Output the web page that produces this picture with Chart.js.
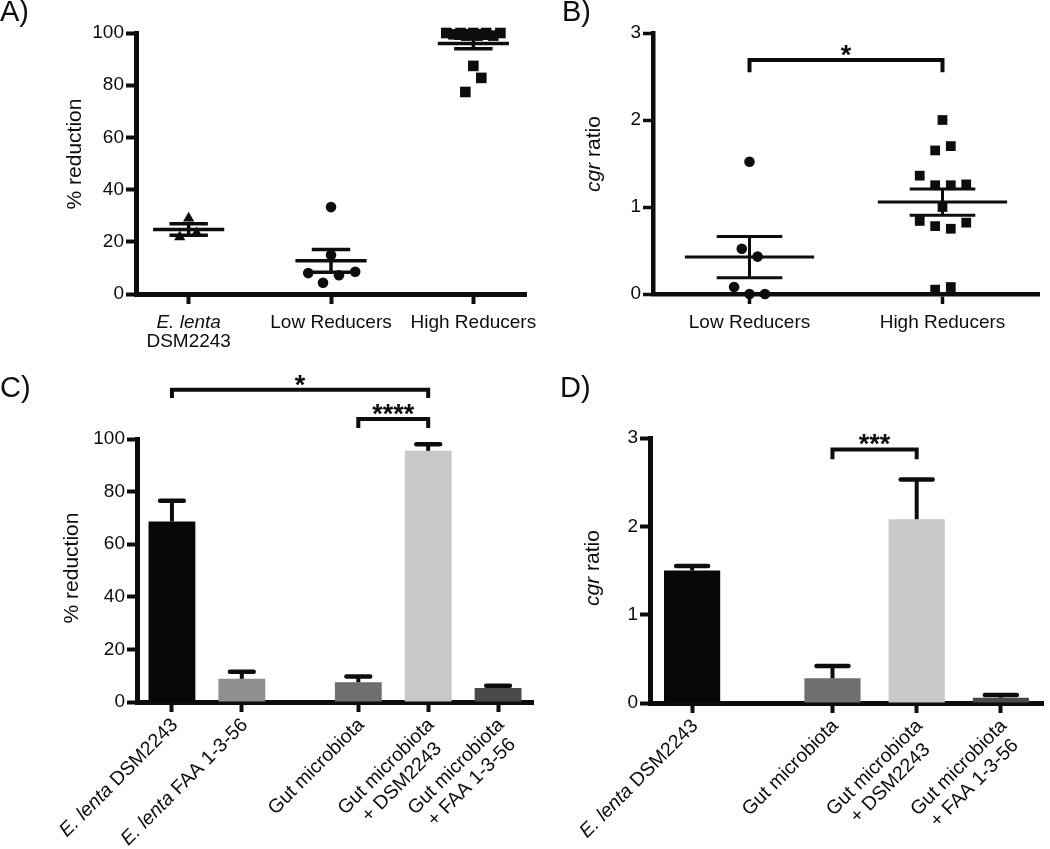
<!DOCTYPE html>
<html>
<head>
<meta charset="utf-8">
<title>cgr reduction figure</title>
<script src="https://cdn.jsdelivr.net/npm/chart.js@4.4.1/dist/chart.umd.min.js"></script>
<style>
  html, body { margin: 0; padding: 0; background: #fff; }
  #fig { position: relative; width: 1050px; height: 849px; overflow: hidden; }
  #fig canvas { position: absolute; }
</style>
</head>
<body>
<div id="fig">
  <canvas id="panelA" width="540" height="380" style="left:0;top:0"></canvas>
  <canvas id="panelB" width="530" height="380" style="left:520px;top:0"></canvas>
  <canvas id="panelC" width="540" height="489" style="left:0;top:360px"></canvas>
  <canvas id="panelD" width="530" height="489" style="left:520px;top:360px"></canvas>
</div>
<script>
const FONT = '"Liberation Sans", Arial, Helvetica, sans-serif';
const INK = '#0d0d0d';
Chart.defaults.font.family = FONT;
Chart.defaults.color = INK;

// A) % reduction per strain / donor group  ('_' marks italic, '|' a line break)
const catsA = ['_E. lenta_|DSM2243', 'Low Reducers', 'High Reducers'];
const elentaA = [29.0, 21.8, 23.4];
const elentaOffA = [0, -0.063, 0.056];
const lowA = [33.3, 14.9, 8.0, 7.2, 8.5, 4.3];
const lowOffA = [0, 0, -0.16, 0.056, 0.17, -0.056];
const highA = [100, 99.5, 100, 99, 100, 99.5, 100, 99, 100, 99.5, 99, 87.4, 82.8, 77.4];
const highOffA = [-0.19, -0.14, -0.09, -0.05, 0, 0.05, 0.09, 0.14, 0.19, -0.03, 0.03, 0, 0.056, -0.056];

// B) cgr ratio per donor group
const catsB = ['Low Reducers', 'High Reducers'];
const lowB = [1.52, 0.52, 0.43, 0.08, 0.0, 0.0];
const lowOffB = [0, -0.04, 0.042, -0.08, 0, 0.08];
const highB = [2.0, 1.65, 1.70, 1.36, 1.25, 1.25, 1.26, 1.0, 0.84, 0.78, 0.75, 0.82, 0.05, 0.08];
const highOffB = [0, -0.038, 0.043, -0.118, -0.038, 0.043, 0.123, 0, -0.118, -0.038, 0.043, 0.123, -0.038, 0.043];
const sigB = [{ from: 0, to: 1, y: 2.69, foot: 2.55, text: '*' }];

// C) % reduction, mean + SEM
const catsC = ['_E. lenta_ DSM2243', '_E. lenta_ FAA 1-3-56', 'Gut microbiota',
               'Gut microbiota|+ DSM2243', 'Gut microbiota|+ FAA 1-3-56'];
const meanC = [68.6, 8.8, 7.5, 95.5, 5.3];
const semC = [7.9, 2.7, 2.2, 2.5, 0.9];
const colorsC = ['#080808', '#8f8f8f', '#6f6f6f', '#c8c8c8', '#4a4a4a'];
const sigC = [
  { from: 0, to: 3, y: 118.7, foot: 115.6, text: '*' },
  { from: 2, to: 3, y: 107.6, foot: 104.2, text: '****' }
];

// D) cgr ratio, mean + SEM
const catsD = ['_E. lenta_ DSM2243', 'Gut microbiota', 'Gut microbiota|+ DSM2243', 'Gut microbiota|+ FAA 1-3-56'];
const meanD = [1.50, 0.28, 2.08, 0.06];
const semD = [0.05, 0.14, 0.45, 0.03];
const colorsD = ['#080808', '#6f6f6f', '#c8c8c8', '#4a4a4a'];
const sigD = [{ from: 1, to: 2, y: 2.87, foot: 2.76, text: '***' }];

// bar slots: a wider gap separates the pure cultures from the gut samples
const posC = catsC.map((c, i) => i + (i > 1 ? 0.667 : 0));
const posD = catsD.map((c, i) => i + (i > 0 ? 0.667 : 0));

function mean(a) { return a.reduce((s, v) => s + v, 0) / a.length; }
function sem(a) {
  const m = mean(a);
  return Math.sqrt(a.reduce((s, v) => s + (v - m) * (v - m), 0) / (a.length - 1) / a.length);
}
function dots(values, offs, group) { return values.map((v, i) => ({ x: group + offs[i], y: v })); }
function bars(values, pos) { return values.map((v, i) => ({ x: pos[i], y: v })); }

function segs(str) {
  return str.split('_').map((t, i) => ({ t: t, it: i % 2 === 1 })).filter(s => s.t.length);
}
function fontOf(size, it) { return (it ? 'italic ' : '') + size + 'px ' + FONT; }
function partsWidth(ctx, parts, size) {
  let w = 0;
  parts.forEach(p => { ctx.font = fontOf(size, p.it); w += ctx.measureText(p.t).width; });
  return w;
}
function drawParts(ctx, parts, size, x, y) {
  ctx.textAlign = 'left';
  parts.forEach(p => {
    ctx.font = fontOf(size, p.it);
    ctx.fillText(p.t, x, y);
    x += ctx.measureText(p.t).width;
  });
}

const decor = {
  id: 'decor',
  afterDraw(chart, args, o) {
    const ctx = chart.ctx, xs = chart.scales.x, ys = chart.scales.y;
    const px = v => xs.getPixelForValue(v), py = v => ys.getPixelForValue(v);
    ctx.save();
    ctx.strokeStyle = INK;
    ctx.fillStyle = INK;

    // scatter groups: mean line with SEM whiskers
    (o.groups || []).forEach(g => {
      const m = mean(g.values), s = sem(g.values);
      ctx.lineWidth = o.lineWidth;
      ctx.lineCap = 'butt';
      ctx.beginPath();
      ctx.moveTo(px(g.x - o.meanHalf), py(m));
      ctx.lineTo(px(g.x + o.meanHalf), py(m));
      [m - s, m + s].forEach(v => {
        ctx.moveTo(px(g.x - o.semHalf), py(v));
        ctx.lineTo(px(g.x + o.semHalf), py(v));
      });
      ctx.moveTo(px(g.x), py(m - s));
      ctx.lineTo(px(g.x), py(m + s));
      ctx.stroke();
    });

    // bar error bars, upper half only
    (o.errors || []).forEach(e => {
      const top = py(e.y + e.err);
      ctx.lineWidth = 4;
      ctx.lineCap = 'butt';
      ctx.beginPath();
      ctx.moveTo(px(e.x), py(e.y));
      ctx.lineTo(px(e.x), top);
      ctx.stroke();
      ctx.lineWidth = 4.5;
      ctx.lineCap = 'round';
      ctx.beginPath();
      ctx.moveTo(px(e.x - o.capHalf), top);
      ctx.lineTo(px(e.x + o.capHalf), top);
      ctx.stroke();
    });

    // significance brackets
    (o.brackets || []).forEach(b => {
      const x1 = px(o.xAt[b.from]), x2 = px(o.xAt[b.to]), y = py(b.y), yf = py(b.foot);
      ctx.lineWidth = 4;
      ctx.lineCap = 'butt';
      ctx.lineJoin = 'miter';
      ctx.beginPath();
      ctx.moveTo(x1, yf); ctx.lineTo(x1, y); ctx.lineTo(x2, y); ctx.lineTo(x2, yf);
      ctx.stroke();
      ctx.font = 'bold 27px ' + FONT;
      ctx.textAlign = 'center';
      ctx.textBaseline = 'alphabetic';
      ctx.fillText(b.text, (x1 + x2) / 2, y + 4);
    });

    // category labels
    const base = py(0);
    o.labels.forEach((lab, i) => {
      const lines = lab.split('|').map(segs);
      const x = px(o.xAt[i]);
      if (o.rotate) {
        ctx.save();
        ctx.translate(x + 3, base + 20);
        ctx.rotate(-Math.PI / 4);
        ctx.textBaseline = 'middle';
        const w0 = partsWidth(ctx, lines[0], 19.5);
        lines.forEach((ln, k) => {
          const w = partsWidth(ctx, ln, 19.5);
          drawParts(ctx, ln, 19.5, -w0 / 2 - w / 2, k * 22);
        });
        ctx.restore();
      } else {
        ctx.textBaseline = 'alphabetic';
        lines.forEach((ln, k) => {
          const w = partsWidth(ctx, ln, 19);
          drawParts(ctx, ln, 19, x - w / 2, base + 34 + k * 19);
        });
      }
    });

    // y-axis title
    const tp = segs(o.yTitle);
    ctx.save();
    ctx.translate(o.titleAt[0], o.titleAt[1]);
    ctx.rotate(-Math.PI / 2);
    ctx.textBaseline = 'middle';
    drawParts(ctx, tp, 21, -partsWidth(ctx, tp, 21) / 2, 0);
    ctx.restore();

    // panel letter
    ctx.font = '29px ' + FONT;
    ctx.textAlign = 'left';
    ctx.textBaseline = 'alphabetic';
    ctx.fillText(o.letter, o.letterAt[0], o.letterAt[1]);
    ctx.restore();
  }
};

function axisX(min, max, ticksAt, height, lw) {
  return {
    type: 'linear', min: min, max: max, offset: false, z: 1,
    ticks: { display: false },
    grid: { drawOnChartArea: false, offset: false, tickLength: 10, tickWidth: lw, tickColor: INK },
    border: { width: lw + 1, color: INK },
    afterBuildTicks: s => { s.ticks = ticksAt.map(v => ({ value: v })); },
    afterFit: s => { s.height = height; }
  };
}
function axisY(max, step, width, lw) {
  return {
    type: 'linear', min: 0, max: max,
    ticks: { stepSize: step, color: INK, padding: 2, font: { family: FONT, size: 19 } },
    grid: { drawOnChartArea: false, tickLength: 10, tickWidth: lw, tickColor: INK },
    border: { width: lw + 1, color: INK },
    afterFit: s => { s.width = width; }
  };
}
function baseOptions(padTop, padRight, scales, decorOpts) {
  return {
    responsive: false, animation: false, events: [],
    layout: { padding: { top: padTop, right: padRight, left: 0, bottom: 0 } },
    plugins: { legend: { display: false }, tooltip: { enabled: false }, decor: decorOpts },
    scales: scales
  };
}
function dotSet(data, style, r) {
  return { data: data, pointStyle: style, pointRadius: r, backgroundColor: INK, borderWidth: 0, clip: false };
}

// A
const posA = catsA.map((c, i) => i);
const ptsA = new Chart(document.getElementById('panelA'), {
  type: 'scatter',
  data: { datasets: [
    dotSet(dots(elentaA, elentaOffA, 0), 'triangle', 6.5),
    dotSet(dots(lowA, lowOffA, 1), 'circle', 5.3),
    dotSet(dots(highA, highOffA, 2), 'rect', 7.5)
  ] },
  options: baseOptions(33, 14, { x: axisX(-0.37, 2.37, posA, 86, 4), y: axisY(100, 20, 136, 4) }, {
    groups: [{ x: 0, values: elentaA }, { x: 1, values: lowA }, { x: 2, values: highA }],
    meanHalf: 0.25, semHalf: 0.135, lineWidth: 3.5,
    labels: catsA, xAt: posA,
    yTitle: '% reduction', titleAt: [75, 154],
    letter: 'A)', letterAt: [0, 21]
  }),
  plugins: [decor]
});

// B
const posB = catsB.map((c, i) => i);
const ptsB = new Chart(document.getElementById('panelB'), {
  type: 'scatter',
  data: { datasets: [
    dotSet(dots(lowB, lowOffB, 0), 'circle', 5.3),
    dotSet(dots(highB, highOffB, 1), 'rect', 6.9)
  ] },
  options: baseOptions(33, 11, { x: axisX(-0.5, 1.5, posB, 86, 3.5), y: axisY(3, 1, 133, 3.5) }, {
    groups: [{ x: 0, values: lowB }, { x: 1, values: highB }],
    meanHalf: 0.335, semHalf: 0.17, lineWidth: 3,
    brackets: sigB,
    labels: catsB, xAt: posB,
    yTitle: '_cgr_ ratio', titleAt: [74, 154],
    letter: 'B)', letterAt: [42, 21]
  }),
  plugins: [decor]
});

// C
const barsC = new Chart(document.getElementById('panelC'), {
  type: 'bar',
  data: { datasets: [{
    data: bars(meanC, posC), backgroundColor: colorsC, borderWidth: 0,
    barPercentage: 0.67, categoryPercentage: 1
  }] },
  options: baseOptions(79, 7, { x: axisX(-0.5, 5.167, posC, 147, 4), y: axisY(100, 20, 137, 4) }, {
    errors: meanC.map((v, i) => ({ x: posC[i], y: v, err: semC[i] })),
    capHalf: 0.17,
    brackets: sigC,
    labels: catsC, xAt: posC, rotate: true,
    yTitle: '% reduction', titleAt: [72, 208],
    letter: 'C)', letterAt: [0, 37]
  }),
  plugins: [decor]
});

// D
const barsD = new Chart(document.getElementById('panelD'), {
  type: 'bar',
  data: { datasets: [{
    data: bars(meanD, posD), backgroundColor: colorsD, borderWidth: 0,
    barPercentage: 0.667, categoryPercentage: 1
  }] },
  options: baseOptions(78, 7, { x: axisX(-0.5, 4.167, posD, 146, 4), y: axisY(3, 1, 130, 4) }, {
    errors: meanD.map((v, i) => ({ x: posD[i], y: v, err: semD[i] })),
    capHalf: 0.19,
    brackets: sigD,
    labels: catsD, xAt: posD, rotate: true,
    yTitle: '_cgr_ ratio', titleAt: [73.5, 208],
    letter: 'D)', letterAt: [40, 37]
  }),
  plugins: [decor]
});
</script>
</body>
</html>
